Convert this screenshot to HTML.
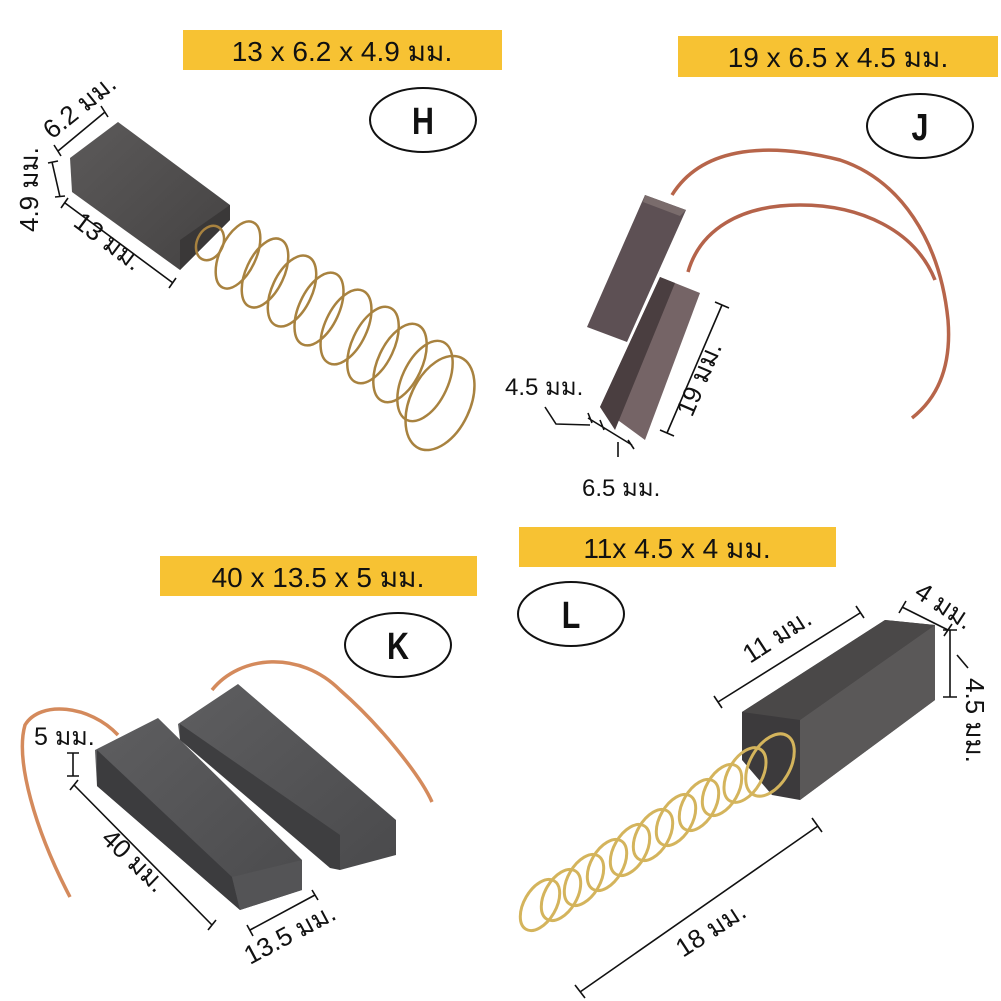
<!DOCTYPE html>
<html><head><meta charset="utf-8"><style>
body{margin:0;background:#fff;}
svg{display:block}
text{font-family:"Liberation Sans","Noto Sans CJK SC",sans-serif;fill:#111}
</style></head><body>
<svg width="1001" height="1001" viewBox="0 0 1001 1001" xmlns="http://www.w3.org/2000/svg">
<defs>
<linearGradient id="g1" x1="0" y1="0" x2="1" y2="1"><stop offset="0" stop-color="#5c5a5a"/><stop offset="1" stop-color="#444242"/></linearGradient>
<linearGradient id="gk" x1="0" y1="0" x2="1" y2="1"><stop offset="0" stop-color="#5e5e60"/><stop offset="1" stop-color="#4a4a4c"/></linearGradient>
</defs>
<rect x="183" y="30" width="319" height="40" fill="#f7c233"/>
<text x="342" y="61" font-size="28" text-anchor="middle">13 x 6.2 x 4.9 มม.</text>
<rect x="678" y="36" width="320" height="41" fill="#f7c233"/>
<text x="838" y="67" font-size="28" text-anchor="middle">19 x 6.5 x 4.5 มม.</text>
<rect x="160" y="556" width="317" height="40" fill="#f7c233"/>
<text x="318" y="587" font-size="28" text-anchor="middle">40 x 13.5 x 5 มม.</text>
<rect x="519" y="527" width="317" height="40" fill="#f7c233"/>
<text x="677" y="558" font-size="28" text-anchor="middle">11x 4.5 x 4 มม.</text>
<g fill="none" stroke="#111" stroke-width="2">
<ellipse cx="423" cy="120" rx="53" ry="32"/>
<ellipse cx="920" cy="126" rx="53" ry="32"/>
<ellipse cx="398" cy="645" rx="53" ry="32"/>
<ellipse cx="571" cy="614" rx="53" ry="32"/>
</g>
<g font-weight="bold" font-size="38" text-anchor="middle">
<text x="423" y="134" transform="translate(423 0) scale(0.8 1) translate(-423 0)">H</text>
<text x="920" y="140" transform="translate(920 0) scale(0.8 1) translate(-920 0)">J</text>
<text x="398" y="659" transform="translate(398 0) scale(0.8 1) translate(-398 0)">K</text>
<text x="571" y="628" transform="translate(571 0) scale(0.8 1) translate(-571 0)">L</text>
</g>

<!-- H brush -->
<polygon points="70,158 118,122 230,205 230,220 180,270 72,192" fill="url(#g1)"/>
<polygon points="180,240 230,205 230,220 180,270" fill="#3a3838"/>
<g fill="none" stroke="#a8823f" stroke-width="2.5">
<ellipse cx="210" cy="243" rx="13" ry="18" transform="rotate(25 210 243)"/>
<ellipse cx="238" cy="255" rx="18" ry="36" transform="rotate(25 238 255)"/>
<ellipse cx="265" cy="273" rx="19" ry="37" transform="rotate(25 265 273)"/>
<ellipse cx="292" cy="291" rx="20" ry="38" transform="rotate(25 292 291)"/>
<ellipse cx="319" cy="309" rx="20" ry="39" transform="rotate(25 319 309)"/>
<ellipse cx="346" cy="327" rx="21" ry="40" transform="rotate(25 346 327)"/>
<ellipse cx="373" cy="345" rx="21" ry="41" transform="rotate(25 373 345)"/>
<ellipse cx="400" cy="363" rx="22" ry="42" transform="rotate(25 400 363)"/>
<ellipse cx="425" cy="381" rx="23" ry="43" transform="rotate(25 425 381)"/>
<ellipse cx="440" cy="403" rx="30" ry="50" transform="rotate(25 440 403)"/>
</g>
<g stroke="#111" stroke-width="1.6" fill="none">
<path d="M58,151 L105,112 M54,145 L61,156 M101,106 L108,117"/>
<path d="M52,162 L60,197 M48,163 L58,161 M55,197 L65,196"/>
<path d="M65,203 L173,283 M61,208 L68,198 M169,288 L176,278"/>
</g>
<text font-size="26" transform="translate(52,140) rotate(-39)">6.2 มม.</text>
<text font-size="26" transform="translate(38,232) rotate(-90)">4.9 มม.</text>
<text font-size="26" transform="translate(72,225) rotate(37)">13 มม.</text>

<!-- J brushes -->
<path d="M672,195 C700,150 760,140 840,160 C900,180 940,240 948,320 C952,370 935,400 912,418" fill="none" stroke="#b7654a" stroke-width="3.5"/>
<path d="M688,272 C700,230 740,205 800,205 C860,205 915,230 935,280" fill="none" stroke="#b5634a" stroke-width="3.5"/>
<polygon points="645,195 686,210 627,342 587,327" fill="#5d5054"/>
<polygon points="645,195 686,210 680,216 643,202" fill="#7a6c6c"/>
<polygon points="660,277 700,293 645,440 600,407" fill="#756466"/>
<polygon points="660,277 675,283 615,430 600,407" fill="#4a3e40"/>
<g stroke="#111" stroke-width="1.6" fill="none">
<path d="M667,433 L722,305 M660,430 L674,436 M715,302 L729,308"/>
<path d="M545,407 L556,424 L590,425 M588,418 L632,445 M588,413 L592,423 M600,420 L604,430 M628,440 L634,449 M618,442 L618,457"/>
</g>
<text font-size="24" x="505" y="395">4.5 มม.</text>
<text font-size="24" x="582" y="496">6.5 มม.</text>
<text font-size="26" transform="translate(692,418) rotate(-67)">19 มม.</text>

<!-- K brushes -->
<path d="M118,735 C90,705 40,700 25,725 C15,760 35,830 70,897" fill="none" stroke="#d48a5c" stroke-width="3.5"/>
<path d="M212,690 C240,655 300,650 340,690 C380,725 420,775 432,802" fill="none" stroke="#d48a5c" stroke-width="3.5"/>
<polygon points="178,724 238,684 396,820 396,855 340,870 180,740" fill="url(#gk)"/>
<polygon points="180,740 330,868 340,870 340,835 180,724" fill="#3e3e40"/>
<polygon points="95,750 158,718 302,860 302,890 240,910 97,786" fill="url(#gk)"/>
<polygon points="97,750 232,877 240,910 97,786" fill="#3c3c3e"/>
<polygon points="232,877 302,860 302,890 240,910" fill="#545456"/>
<g stroke="#111" stroke-width="1.6" fill="none">
<path d="M73,753 L73,776 M67,753 L79,753 M67,776 L79,776"/>
<path d="M74,785 L212,925 M70,790 L78,780 M208,930 L216,920"/>
<path d="M250,930 L315,895 M247,925 L253,936 M312,890 L318,900"/>
</g>
<text font-size="25" x="34" y="745">5 มม.</text>
<text font-size="26" transform="translate(100,840) rotate(44)">40 มม.</text>
<text font-size="26" transform="translate(250,965) rotate(-28)">13.5 มม.</text>

<!-- L brush -->
<polygon points="742,712 885,620 935,625 935,700 800,800 772,795 742,760" fill="#3c3a3c"/>
<polygon points="742,712 885,620 935,625 800,720" fill="#4a4848"/>
<polygon points="800,720 935,625 935,700 800,800" fill="#5a5858"/>
<g fill="none" stroke="#d4b45c" stroke-width="3">
<ellipse cx="770" cy="765" rx="20" ry="34" transform="rotate(30 770 765)"/>
<ellipse cx="745" cy="775" rx="17" ry="30" transform="rotate(30 745 775)"/>
<ellipse cx="722" cy="790" rx="16" ry="28" transform="rotate(30 722 790)"/>
<ellipse cx="699" cy="805" rx="16" ry="28" transform="rotate(30 699 805)"/>
<ellipse cx="676" cy="820" rx="16" ry="28" transform="rotate(30 676 820)"/>
<ellipse cx="653" cy="835" rx="16" ry="28" transform="rotate(30 653 835)"/>
<ellipse cx="630" cy="850" rx="16" ry="28" transform="rotate(30 630 850)"/>
<ellipse cx="607" cy="865" rx="16" ry="28" transform="rotate(30 607 865)"/>
<ellipse cx="584" cy="880" rx="16" ry="28" transform="rotate(30 584 880)"/>
<ellipse cx="561" cy="895" rx="16" ry="28" transform="rotate(30 561 895)"/>
<ellipse cx="540" cy="905" rx="16" ry="28" transform="rotate(30 540 905)"/>
</g>
<g stroke="#111" stroke-width="1.6" fill="none">
<path d="M718,702 L860,613 M714,696 L722,708 M856,606 L864,618"/>
<path d="M902,607 L948,630 M899,613 L906,601 M944,636 L952,624"/>
<path d="M950,630 L950,697 M943,630 L957,630 M943,697 L957,697"/>
<path d="M957,655 L968,668"/>
<path d="M580,992 L818,826 M575,985 L585,998 M812,818 L822,832"/>
</g>
<text font-size="26" transform="translate(750,664) rotate(-33)">11 มม.</text>
<text font-size="26" transform="translate(913,596) rotate(33)">4 มม.</text>
<text font-size="26" transform="translate(966,678) rotate(90)">4.5 มม.</text>
<text font-size="26" transform="translate(683,958) rotate(-33)">18 มม.</text>
</svg>
</body></html>
